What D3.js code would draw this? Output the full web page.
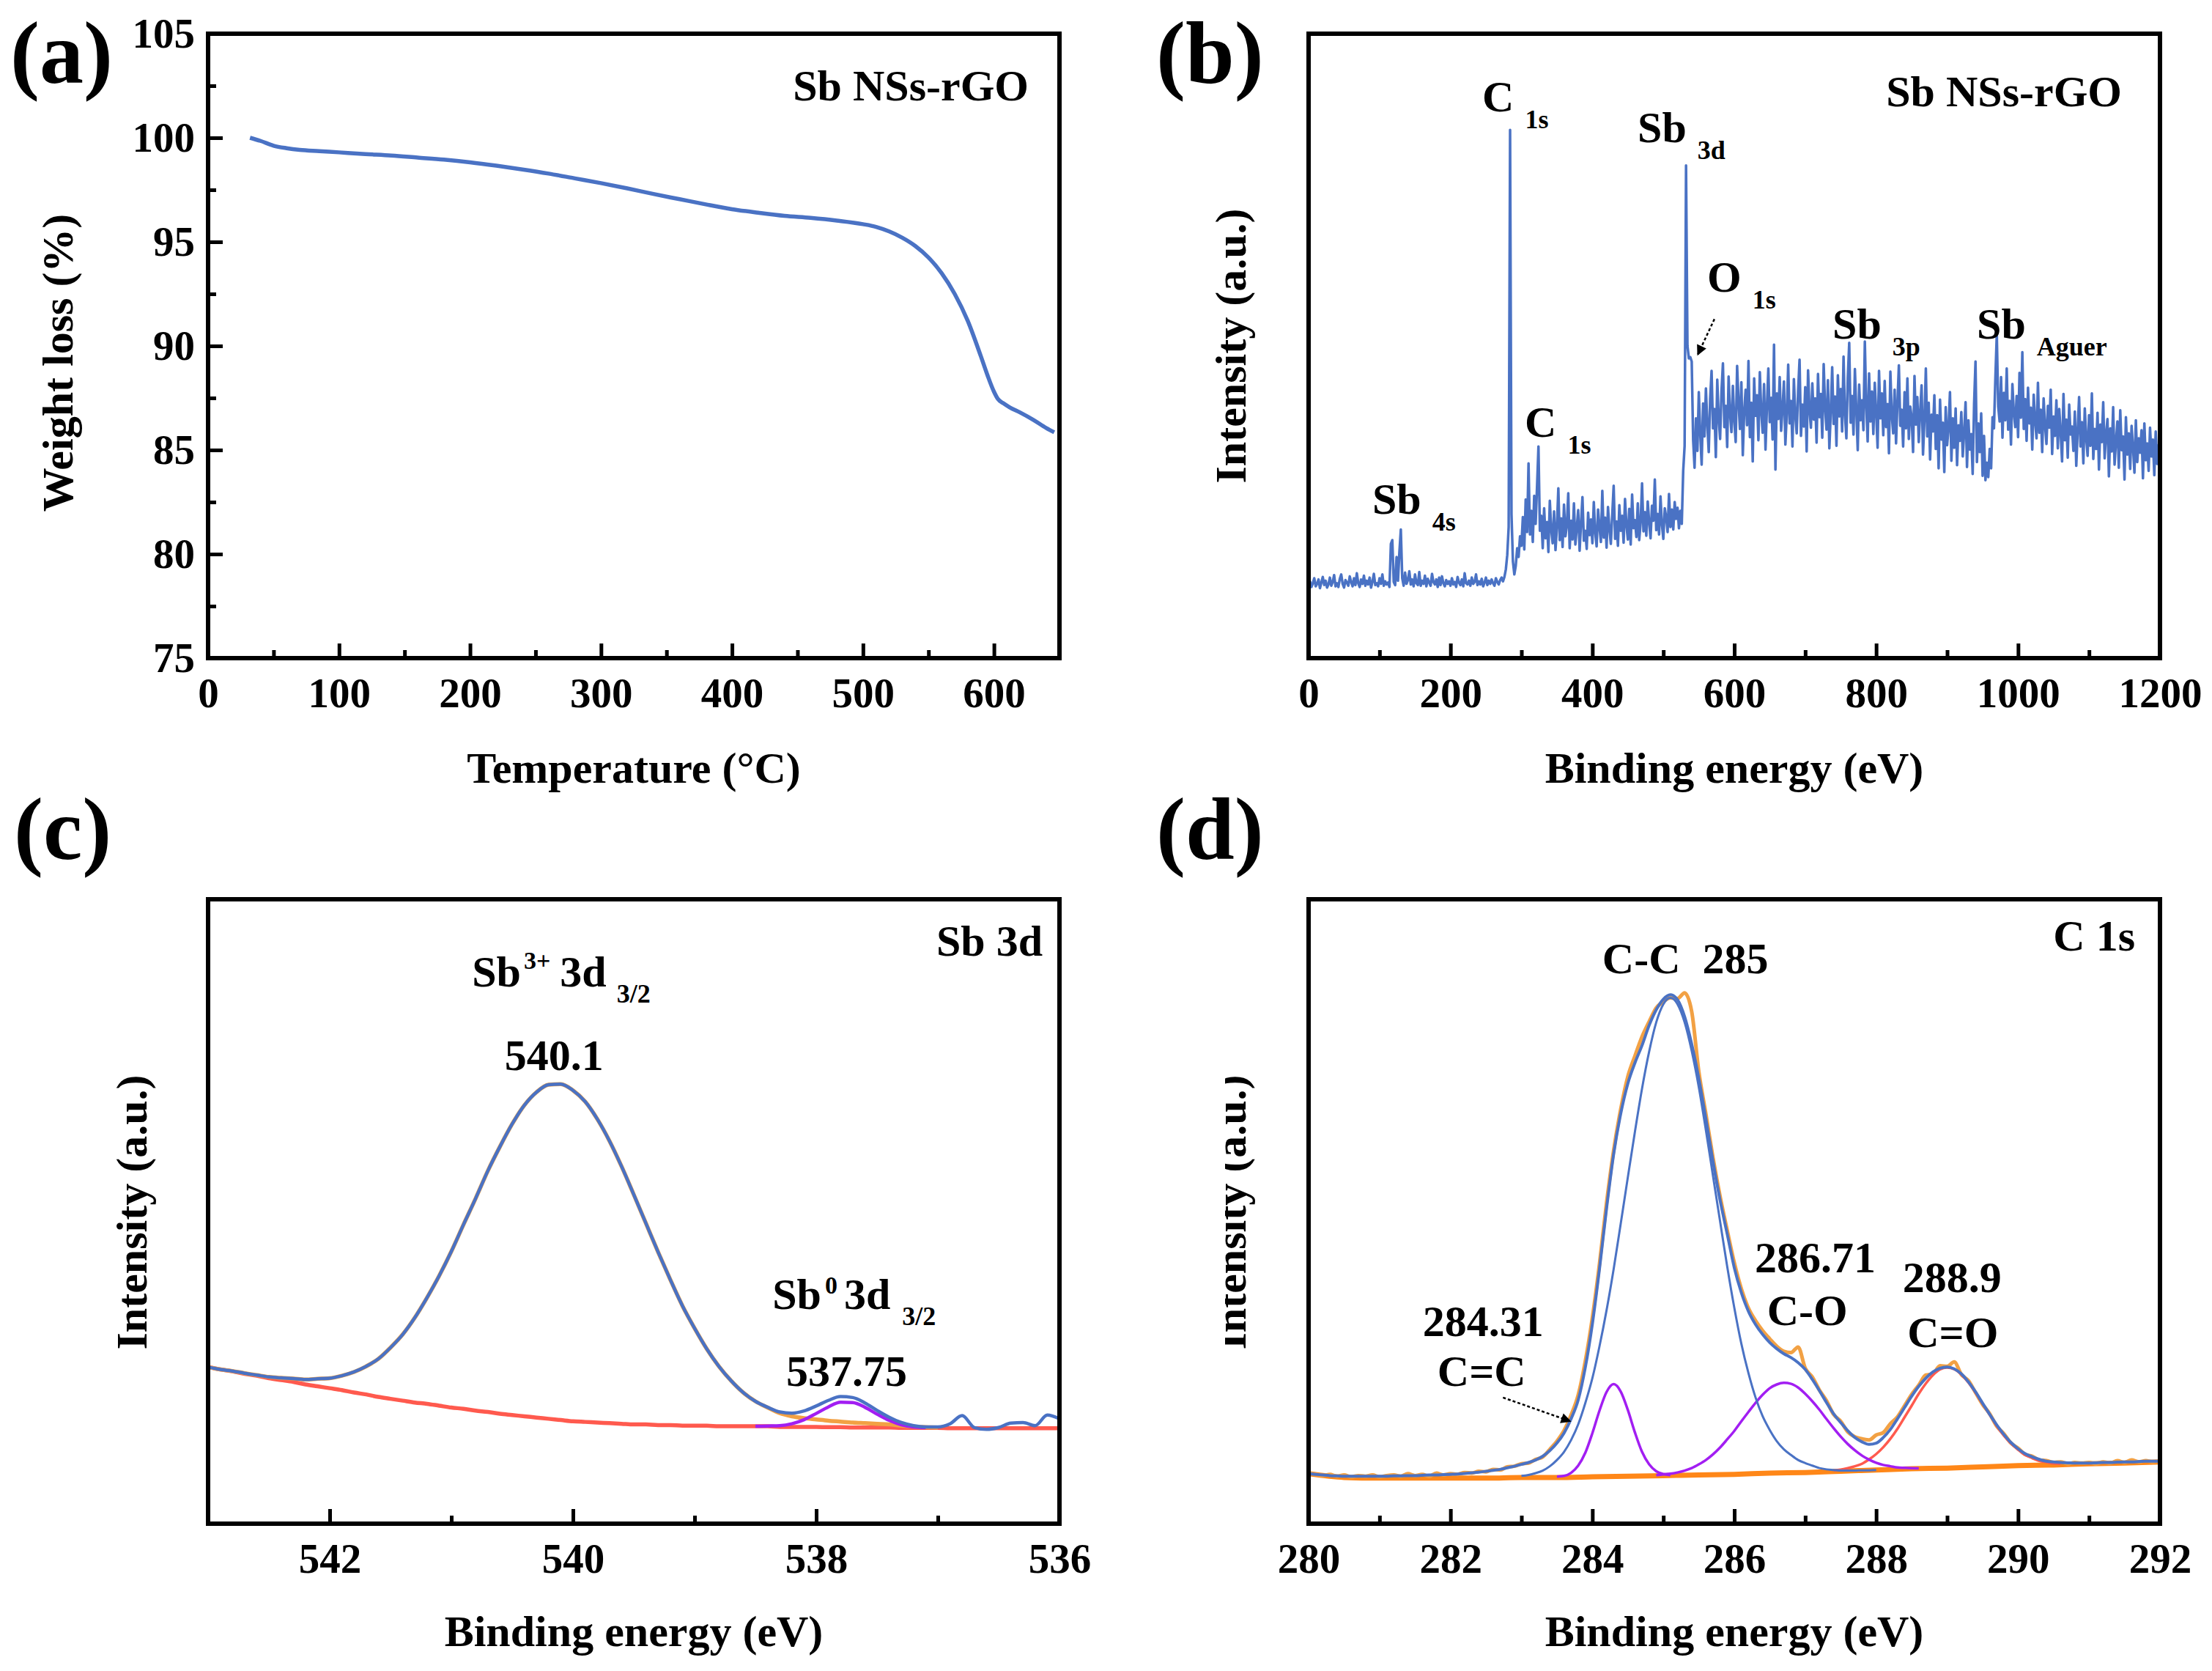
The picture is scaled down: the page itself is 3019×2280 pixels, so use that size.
<!DOCTYPE html>
<html>
<head>
<meta charset="UTF-8"/>
<script src="https://cdn.jsdelivr.net/npm/d3@7"></script>
<style>
body { margin: 0; background: #fff; }
text { font-family: "Liberation Serif", "Times New Roman", serif; font-weight: bold; fill: #000; }
.axis text { font-size: 57px; }
.axis line { stroke: #000; stroke-width: 5; }
.frame { fill: none; stroke: #000; stroke-width: 6; }
</style>
</head>
<body>
<svg id="fig" width="3019" height="2280"></svg>
<script>
'use strict';

// (a) TGA
var tgaTemp = [32, 40, 50, 60, 70, 85, 100, 120, 140, 160, 180, 200, 220, 240, 260, 280, 300,
  320, 340, 360, 380, 400, 420, 440, 460, 480, 500, 510, 520, 530, 540, 550, 560, 570, 580,
  590, 595, 600, 603, 607, 612, 620, 630, 640, 646];
var tgaWeight = [100.0, 99.85, 99.62, 99.5, 99.42, 99.36, 99.3, 99.22, 99.15, 99.05, 98.95, 98.82,
  98.66, 98.48, 98.28, 98.05, 97.82, 97.57, 97.3, 97.05, 96.8, 96.57, 96.4, 96.25, 96.15, 96.02,
  95.85, 95.72, 95.5, 95.2, 94.8, 94.25, 93.5, 92.5, 91.2, 89.5, 88.6, 87.8, 87.45, 87.25, 87.05,
  86.8, 86.45, 86.05, 85.85];

// (b) survey, one value every 2 eV from 0 to 1200 (20 per row = 40 eV)
var surveyStart = 0, surveyStep = 2;
var surveyCounts = [
  11.6, 12.3, 11.4, 12.0, 12.8, 11.5, 11.9, 12.6, 11.2, 12.1, 13.0, 11.7, 12.4, 11.3, 11.8, 12.9, 11.6, 12.2, 13.3, 11.5,
  12.0, 11.4, 12.7, 13.4, 11.9, 11.3, 12.5, 12.1, 11.6, 13.1, 12.2, 11.5, 12.8, 11.7, 13.6, 12.0, 11.4, 12.6, 11.9, 13.2,
  11.6, 12.4, 11.8, 12.9, 11.3, 12.2, 13.5, 11.7, 12.0, 11.5, 12.8, 11.9, 13.4, 11.6, 12.3, 11.8, 12.1, 11.4, 18.3, 18.9,
  12.2, 11.7, 16.2, 12.4, 17.0, 20.6, 12.8, 11.6, 13.7, 11.9, 12.5, 13.9, 11.8, 12.6, 11.5, 13.4, 12.0, 11.7, 13.8, 11.6,
  12.4, 11.9, 13.2, 11.5, 12.7, 12.1, 11.6, 13.5, 12.2, 11.8, 12.6, 11.4, 12.9, 11.7, 13.1, 12.0, 11.5, 12.5, 11.9, 12.3,
  11.6, 12.8, 11.8, 12.2, 11.4, 13.0, 12.1, 11.7, 12.6, 11.5, 13.6, 12.0, 11.8, 12.4, 11.6, 12.9, 11.9, 12.2, 13.4, 11.7,
  12.3, 11.8, 12.7, 11.5, 12.1, 12.9, 11.7, 12.4, 11.9, 12.6, 12.0, 11.6, 12.8, 12.2, 11.8, 12.5, 12.9, 12.3, 13.0, 14.2,
  16.5, 21.0, 84.6, 23.0, 15.5, 13.4, 14.8, 17.6, 16.2, 19.5, 18.0, 22.6, 17.4, 25.4, 20.2, 31.2, 19.8, 23.6, 18.6, 26.0,
  21.5, 27.5, 33.9, 20.4, 22.8, 17.6, 24.0, 19.2, 21.8, 17.0, 25.2, 20.6, 18.4, 23.5, 17.3, 21.0, 27.2, 18.9, 22.4, 17.8,
  24.6, 19.5, 21.2, 26.4, 17.6, 22.0, 19.0, 24.8, 18.2, 20.9, 23.7, 17.2, 21.6, 25.8, 18.8, 20.4, 17.5, 23.3, 19.7, 22.2,
  18.4, 25.0, 20.1, 17.9, 23.8, 21.0, 18.6, 26.8, 19.3, 22.5, 17.7, 24.2, 20.7, 18.3, 23.0, 27.6, 19.1, 21.9, 18.0, 24.5,
  20.4, 22.8, 18.5, 25.5, 21.3, 19.0, 23.9, 18.2, 26.2, 20.8, 22.1, 19.4, 24.8, 18.9, 21.7, 28.0, 20.3, 23.4, 19.6, 25.1,
  21.8, 19.2, 24.4, 22.0, 28.6, 20.5, 23.1, 19.8, 25.9, 21.4, 19.1, 24.0, 22.6, 20.2, 26.3, 21.0, 23.8, 20.6, 25.0, 22.3,
  24.1, 20.8, 23.6, 21.5, 30.0, 34.0, 78.9, 50.0, 48.0, 48.2, 47.5, 35.0, 30.5, 38.4, 33.2, 42.6, 36.0, 31.0, 40.8, 35.5,
  43.2, 37.4, 33.0, 41.5, 46.0, 36.8, 39.9, 32.2, 44.6, 38.5, 35.1, 42.8, 47.2, 37.0, 40.4, 33.8, 45.1, 39.2, 36.2, 43.6,
  38.0, 34.6, 46.8, 41.0, 36.7, 44.2, 32.5, 39.6, 43.0, 37.3, 47.6, 35.4, 40.9, 31.5, 44.8, 38.8, 42.1, 34.9, 45.8, 39.5,
  36.1, 43.9, 33.4, 40.2, 46.4, 37.8, 41.7, 35.0, 50.2, 30.2, 42.4, 38.3, 45.0, 36.4, 40.0, 44.3, 34.2, 39.1, 47.0, 37.6,
  41.2, 33.9, 44.7, 38.9, 36.0, 42.9, 47.8, 35.6, 40.6, 37.1, 43.4, 33.1, 46.1, 39.8, 36.9, 44.0, 38.2, 41.6, 34.5, 45.5,
  38.6, 42.3, 35.3, 47.1, 40.1, 36.6, 44.5, 33.6, 39.4, 46.6, 37.5, 41.9, 34.0, 45.3, 38.7, 43.1, 36.3, 48.3, 39.0, 35.2,
  44.9, 50.5, 37.7, 42.0, 35.8, 46.3, 39.7, 33.3, 43.8, 38.1, 41.3, 36.5, 50.7, 40.5, 34.7, 45.6, 37.9, 42.7, 35.9, 44.1,
  39.3, 33.7, 46.0, 38.4, 42.4, 35.7, 44.4, 37.0, 40.7, 32.8, 45.9, 38.9, 36.0, 43.0, 34.4, 41.1, 46.9, 37.2, 39.8, 33.9,
  42.6, 36.8, 44.8, 35.1, 40.3, 38.6, 33.0, 45.2, 37.4, 41.8, 34.6, 39.5, 43.7, 32.6, 38.1, 46.4, 35.5, 40.9, 31.8, 39.0,
  36.3, 42.1, 33.5, 38.9, 30.4, 41.4, 35.0, 37.7, 29.8, 40.2, 34.1, 36.9, 42.6, 31.6, 38.4, 33.7, 40.0, 30.9, 37.3, 34.8,
  39.4, 32.3, 36.2, 41.0, 30.6, 38.1, 33.4, 35.9, 29.5, 40.7, 47.5, 31.4, 37.6, 33.0, 39.2, 29.2, 35.6, 28.5, 31.3, 29.0,
  33.5, 30.4, 38.6, 36.8, 44.9, 51.9, 40.3, 37.9, 45.0, 35.3, 42.5, 38.1, 46.4, 36.6, 41.2, 34.2, 43.9, 39.3, 37.0, 42.0,
  35.4, 45.7, 38.5, 49.0, 36.7, 41.5, 34.8, 43.3, 37.6, 40.1, 33.4, 42.2, 38.0, 35.2, 44.1, 36.1, 39.8, 33.0, 41.6, 37.3,
  34.3, 40.4, 36.9, 43.0, 32.7, 38.7, 35.6, 41.3, 33.6, 39.9, 36.2, 31.5, 42.3, 34.9, 38.2, 32.1, 40.6, 35.8, 37.1, 33.2,
  39.5, 30.8, 36.4, 41.8, 33.9, 37.8, 31.2, 40.0, 35.3, 32.4, 38.9, 34.0, 42.4, 31.9, 36.7, 33.5, 39.3, 30.2, 37.4, 34.6,
  41.0, 32.0, 35.9, 38.3, 29.1, 36.8, 33.1, 40.2, 31.0, 34.7, 37.9, 30.5, 39.7, 33.3, 35.5, 28.6, 38.6, 32.6, 36.0, 30.3,
  37.2, 33.8, 29.7, 38.1, 31.4, 35.2, 32.9, 36.5, 28.8, 37.6, 31.7, 34.4, 30.0, 36.9, 32.3, 35.0, 29.3, 36.3, 31.1, 34.1,
  32.5];

// (c) Sb 3d, every 0.1 eV from 543.0 down to 536.0
var sbStart = 543.0, sbStep = -0.1;
var sbBackground = [
  25.1, 24.7, 24.4, 24.0, 23.7, 23.3, 23.0, 22.7, 22.3, 22.0,
  21.7, 21.4, 21.0, 20.7, 20.3, 20.0, 19.7, 19.4, 19.2, 18.9,
  18.6, 18.4, 18.1, 17.9, 17.6, 17.4, 17.2, 17.0, 16.8, 16.6,
  16.4, 16.3, 16.2, 16.1, 16.0, 15.9, 15.9, 15.8, 15.8, 15.7,
  15.7, 15.7, 15.6, 15.6, 15.6, 15.6, 15.6, 15.5, 15.5, 15.5,
  15.5, 15.45, 15.45, 15.4, 15.4, 15.4, 15.4, 15.35, 15.35, 15.35,
  15.35, 15.3, 15.3, 15.3, 15.3, 15.3, 15.3, 15.3, 15.3, 15.3, 15.3];
var sb3Fit = [
  25.1, 24.7, 24.45, 24.1, 23.8, 23.5, 23.35, 23.25, 23.1, 23.2,
  23.3, 23.7, 24.3, 25.2, 26.4, 28.2, 30.3, 33.0, 36.2, 39.7,
  43.6, 47.9, 52.1, 56.5, 60.4, 64.0, 67.0, 69.1, 70.3, 70.4,
  69.4, 67.6, 64.8, 61.3, 57.2, 52.7, 48.1, 43.5, 39.1, 34.9,
  31.3, 28.0, 25.2, 22.9, 21.0, 19.6, 18.6, 17.7, 17.2, 16.9,
  16.7, 16.5, 16.35, 16.2, 16.1, 16.0, 15.9, 15.7, 15.55, 15.45,
  15.4];
var sbEnvelope = [
  25.1, 24.7, 24.45, 24.1, 23.8, 23.5, 23.35, 23.25, 23.1, 23.2,
  23.3, 23.7, 24.3, 25.2, 26.4, 28.2, 30.3, 33.0, 36.2, 39.7,
  43.6, 47.9, 52.1, 56.5, 60.4, 64.0, 67.0, 69.1, 70.3, 70.4,
  69.4, 67.6, 64.8, 61.3, 57.2, 52.7, 48.1, 43.5, 39.1, 34.9,
  31.3, 28.0, 25.2, 22.9, 21.0, 19.6, 18.65, 17.9, 17.7, 18.05,
  18.85, 19.75, 20.35, 20.2, 19.35, 18.15, 17.05, 16.2, 15.7, 15.5,
  15.5, 16.0, 17.3, 15.4, 15.1, 15.4, 16.1, 16.2, 15.7, 17.4, 16.8];
var sb0Start = 538.5;
var sb0Fit = [15.6, 15.65, 15.7, 16.0, 16.65, 17.65, 18.7, 19.45, 19.4, 18.65, 17.55, 16.55, 15.85, 15.5, 15.4];

// (d) C 1s, every 0.1 eV from 280 to 292 (background every 0.5 eV)
var cStart = 280.0, cStep = 0.1, cBgStep = 0.5;
var cBackground = [8.0, 7.4, 7.3, 7.3, 7.3, 7.3, 7.4, 7.4, 7.5, 7.6, 7.7, 7.8, 7.9,
  8.1, 8.2, 8.4, 8.6, 8.8, 8.9, 9.1, 9.3, 9.4, 9.6, 9.7, 9.9];
var cRaw = [
  8.1, 7.9, 7.7, 7.9, 7.6, 7.8, 7.5, 7.7, 7.6, 7.8,
  7.5, 7.7, 7.8, 7.6, 8.0, 7.7, 7.9, 7.6, 8.1, 7.8,
  8.0, 7.9, 8.2, 8.1, 8.4, 8.3, 8.7, 8.6, 9.1, 9.2,
  9.6, 9.7, 10.3, 10.7, 11.9, 13.2, 14.9, 17.4, 20.6, 26.0,
  33.0, 41.6, 51.4, 59.8, 66.4, 71.6, 74.9, 78.0, 80.4, 82.6,
  83.6, 84.2, 84.1, 85.0, 82.0, 72.4, 65.6, 58.6, 52.4, 47.0,
  41.8, 37.6, 34.5, 32.5, 30.9, 29.6, 28.4, 27.6, 27.4, 28.3,
  24.9, 23.5, 21.4, 19.7, 17.5, 16.4, 14.7, 13.9, 13.6, 13.4,
  14.2, 14.6, 16.0, 17.1, 18.9, 20.7, 22.2, 23.8, 24.0, 25.3,
  25.2, 25.9, 23.9, 22.9, 21.0, 19.1, 17.6, 15.6, 14.4, 12.9,
  12.1, 11.1, 10.8, 10.2, 10.1, 9.8, 9.9, 9.6, 9.8, 9.7,
  9.8, 9.6, 9.9, 9.7, 10.1, 9.8, 10.2, 9.9, 10.1, 9.9,
  10.0];
var cEnvelope = [
  8.0, 7.9, 7.8, 7.7, 7.65, 7.6, 7.6, 7.6, 7.6, 7.6,
  7.6, 7.6, 7.65, 7.65, 7.7, 7.7, 7.75, 7.8, 7.8, 7.85,
  7.9, 7.95, 8.05, 8.15, 8.25, 8.4, 8.55, 8.7, 8.95, 9.2,
  9.5, 9.8, 10.2, 10.8, 11.7, 12.9, 14.5, 16.8, 19.8, 25.0,
  32.0, 40.8, 50.5, 59.2, 65.7, 70.5, 73.8, 76.6, 79.8, 82.3,
  84.0, 84.7, 83.9, 81.2, 76.8, 71.3, 64.8, 58.0, 51.8, 46.4,
  41.0, 37.0, 34.0, 31.9, 30.3, 29.0, 28.0, 27.2, 26.6, 25.8,
  24.7, 23.1, 21.3, 19.4, 17.6, 16.2, 14.9, 13.8, 13.1, 12.7,
  12.9, 13.8, 15.1, 16.8, 18.6, 20.4, 22.0, 23.3, 24.3, 24.9,
  25.1, 24.8, 24.0, 22.7, 21.1, 19.3, 17.5, 15.8, 14.3, 13.0,
  12.0, 11.2, 10.7, 10.3, 10.0, 9.9, 9.8, 9.75, 9.7, 9.7,
  9.7, 9.75, 9.8, 9.8, 9.85, 9.9, 9.9, 9.95, 10.0, 10.0,
  10.0];
var ccStart = 283.0;   // C-C
var ccFit = [
  7.65, 7.8, 8.1, 8.5, 9.2, 10.2, 11.5, 13.4, 15.9, 19.3,
  23.3, 28.4, 34.2, 40.8, 48.1, 55.5, 62.8, 69.7, 75.6, 80.3,
  83.2, 84.2, 83.2, 80.3, 75.7, 69.9, 63.0, 55.7, 48.4, 41.2,
  34.6, 28.8, 24.1, 20.2, 17.2, 15.0, 13.2, 11.9, 11.0, 10.2,
  9.7, 9.3, 8.9, 8.7, 8.6, 8.5, 8.5, 8.5, 8.55, 8.55, 8.6];
var cdcStart = 283.5;  // C=C
var cdcFit = [7.55, 7.65, 8.15, 9.3, 11.35, 14.5, 18.1, 21.1, 22.35, 21.15, 18.2, 14.6,
  11.5, 9.5, 8.4, 7.95, 7.77];
var coStart = 284.9;   // C-O
var coFit = [7.77, 7.9, 8.0, 8.2, 8.5, 8.9, 9.5, 10.2, 11.1, 12.2, 13.5, 14.85, 16.4, 17.9,
  19.35, 20.65, 21.7, 22.3, 22.55, 22.4, 21.8, 20.8, 19.6, 18.25, 16.75, 15.3, 13.95, 12.75,
  11.75, 10.9, 10.25, 9.75, 9.4, 9.2, 9.0, 8.95, 8.9, 8.85];
var cdoStart = 287.4;  // C=O
var cdoFit = [8.5, 8.65, 8.9, 9.2, 9.6, 10.3, 11.15, 12.25, 13.6, 15.2, 17.05, 18.9, 20.8,
  22.45, 23.8, 24.7, 25.0, 24.75, 23.9, 22.6, 21.0, 19.2, 17.45, 15.65, 14.1, 12.85, 11.85,
  11.0, 10.5, 10.05, 9.85, 9.65, 9.6];

var BLUE = '#4a72c4', PURPLE = '#a21ef2', RED = '#ff5a4e', ORANGE = '#f2a144', BG_ORANGE = '#ff8718';

var svg = d3.select('#fig');
var W = 1162, H = 852;

var defs = svg.append('defs');
defs.append('marker')
  .attr('id', 'head')
  .attr('viewBox', '0 0 10 10')
  .attr('refX', 9).attr('refY', 5)
  .attr('markerWidth', 16).attr('markerHeight', 14)
  .attr('markerUnits', 'userSpaceOnUse')
  .attr('orient', 'auto')
  .append('path').attr('d', 'M0,0L10,5L0,10z').attr('fill', '#000');
defs.append('clipPath').attr('id', 'cutLabel')
  .append('rect').attr('x', 1672).attr('y', 1200).attr('width', 100).attr('height', 900);
defs.append('clipPath').attr('id', 'box')
  .append('rect').attr('width', W).attr('height', H);

function panel(left, top, xDomain, yDomain) {
  var g = svg.append('g').attr('transform', 'translate(' + left + ',' + top + ')');
  var x = d3.scaleLinear().domain(xDomain).range([0, W]);
  var y = d3.scaleLinear().domain(yDomain).range([H, 0]);
  var plot = g.append('g').attr('clip-path', 'url(#box)');
  return { g: g, plot: plot, x: x, y: y, left: left, top: top };
}

function axes(p, xMajor, xMinor, yMajor, yMinor) {
  var gx = p.g.append('g').attr('class', 'axis').attr('transform', 'translate(0,' + H + ')')
    .call(d3.axisBottom(p.x).tickValues(xMajor).tickSize(-20).tickPadding(27).tickFormat(d3.format('d')));
  var gxm = p.g.append('g').attr('class', 'axis').attr('transform', 'translate(0,' + H + ')')
    .call(d3.axisBottom(p.x).tickValues(xMinor).tickSize(-11).tickFormat(''));
  gx.select('.domain').remove();
  gxm.select('.domain').remove();
  if (yMajor) {
    var gy = p.g.append('g').attr('class', 'axis')
      .call(d3.axisLeft(p.y).tickValues(yMajor).tickSize(-20).tickPadding(18).tickFormat(d3.format('d')));
    var gym = p.g.append('g').attr('class', 'axis')
      .call(d3.axisLeft(p.y).tickValues(yMinor).tickSize(-11).tickFormat(''));
    gy.select('.domain').remove();
    gym.select('.domain').remove();
  }
  p.g.selectAll('.axis').attr('font-family', null).attr('font-size', null);
}

function frame(p) {
  p.g.append('rect').attr('class', 'frame').attr('width', W).attr('height', H);
}

function series(p, start, step, values, color, width, smooth) {
  var line = d3.line()
    .x(function (d, i) { return p.x(start + i * step); })
    .y(function (d) { return p.y(d); });
  if (smooth) line.curve(d3.curveMonotoneX);
  p.plot.append('path').datum(values)
    .attr('d', line)
    .attr('fill', 'none')
    .attr('stroke', color)
    .attr('stroke-width', width)
    .attr('stroke-linejoin', 'round');
}

function corner(p, label, dx, dy) {
  p.g.append('text').attr('x', W - dx).attr('y', dy)
    .attr('text-anchor', 'end').attr('font-size', 60).text(label);
}

function xTitle(p, label, base) {
  svg.append('text').attr('x', p.left + W / 2).attr('y', base)
    .attr('text-anchor', 'middle').attr('font-size', 60).text(label);
}

function yTitle(label, xb, yc, clip) {
  var holder = clip ? svg.append('g').attr('clip-path', 'url(#cutLabel)') : svg;
  holder.append('text')
    .attr('transform', 'translate(' + xb + ',' + yc + ') rotate(-90)')
    .attr('text-anchor', 'middle').attr('font-size', 60).text(label);
}

function letter(label, x, base) {
  svg.append('text').attr('x', x).attr('y', base).attr('font-size', 120).text(label);
}

// peak label: main text plus a lowered subscript
function peakLabel(p, e, v, main, sub) {
  var t = p.g.append('text').attr('x', p.x(e)).attr('y', p.y(v)).attr('font-size', 60);
  t.append('tspan').text(main);
  t.append('tspan').attr('font-size', 36).attr('dx', 15).attr('dy', 23).text(sub);
}

function centred(p, e, v, label) {
  p.g.append('text').attr('x', p.x(e)).attr('y', p.y(v))
    .attr('text-anchor', 'middle').attr('font-size', 60)
    .style('white-space', 'pre').text(label);
}

function arrow(p, e0, v0, e1, v1) {
  p.g.append('line')
    .attr('x1', p.x(e0)).attr('y1', p.y(v0))
    .attr('x2', p.x(e1)).attr('y2', p.y(v1))
    .attr('stroke', '#000').attr('stroke-width', 2.5)
    .attr('stroke-dasharray', '4 3')
    .attr('marker-end', 'url(#head)');
}

// ---------- (a) ----------
var pa = panel(284, 46, [0, 650], [75, 105]);
pa.plot.append('path').datum(d3.zip(tgaTemp, tgaWeight))
  .attr('d', d3.line().curve(d3.curveMonotoneX)
    .x(function (d) { return pa.x(d[0]); })
    .y(function (d) { return pa.y(d[1]); }))
  .attr('fill', 'none').attr('stroke', BLUE).attr('stroke-width', 5.5);
axes(pa, d3.range(0, 601, 100), d3.range(50, 551, 100), d3.range(75, 106, 5), d3.range(77.5, 105, 5));
frame(pa);
corner(pa, 'Sb NSs-rGO', 42, 91);
xTitle(pa, 'Temperature (°C)', 1068);
yTitle('Weight loss (%)', 99, 495);
letter('(a)', 14, 113);

// ---------- (b) ----------
var pb = panel(1786, 46, [0, 1200], [0, 100]);
series(pb, surveyStart, surveyStep, surveyCounts, BLUE, 3.5);
axes(pb, d3.range(0, 1201, 200), d3.range(100, 1101, 200));
frame(pb);
corner(pb, 'Sb NSs-rGO', 52, 99);
peakLabel(pb, 244.8, 87.6, 'C', '1s');
peakLabel(pb, 463.7, 82.6, 'Sb', '3d');
peakLabel(pb, 561.8, 58.7, 'O', '1s');
peakLabel(pb, 738.4, 51.2, 'Sb', '3p');
peakLabel(pb, 941.9, 51.2, 'Sb', 'Aguer');
peakLabel(pb, 304.7, 35.5, 'C', '1s');
peakLabel(pb, 89.8, 23.1, 'Sb', '4s');
arrow(pb, 572, 54.3, 548.5, 48.6);
xTitle(pb, 'Binding energy (eV)', 1068);
yTitle('Intensity (a.u.)', 1700, 472);
letter('(b)', 1578, 113);

// ---------- (c) ----------
var pc = panel(284, 1227, [543, 536], [0, 100]);
series(pc, sbStart, sbStep, sbBackground, RED, 5.5, true);
series(pc, sbStart, sbStep, sb3Fit, ORANGE, 5.5, true);
series(pc, sb0Start, sbStep, sb0Fit, PURPLE, 4.5, true);
series(pc, sbStart, sbStep, sbEnvelope, BLUE, 4.5, true);
axes(pc, [542, 540, 538, 536], [541, 539, 537]);
frame(pc);
corner(pc, 'Sb 3d', 23, 77);
var t3 = pc.g.append('text').attr('x', pc.x(540.83)).attr('y', pc.y(86.0)).attr('font-size', 60);
t3.append('tspan').text('Sb');
t3.append('tspan').attr('font-size', 34).attr('dx', 4).attr('dy', -24).text('3+');
t3.append('tspan').attr('font-size', 60).attr('dx', 13).attr('dy', 24).text('3d');
t3.append('tspan').attr('font-size', 36).attr('dx', 14).attr('dy', 22).text('3/2');
centred(pc, 540.155, 72.7, '540.1');
var t0 = pc.g.append('text').attr('x', pc.x(538.36)).attr('y', pc.y(34.4)).attr('font-size', 60);
t0.append('tspan').text('Sb');
t0.append('tspan').attr('font-size', 34).attr('dx', 5).attr('dy', -21).text('0');
t0.append('tspan').attr('font-size', 60).attr('dx', 9).attr('dy', 21).text('3d');
t0.append('tspan').attr('font-size', 36).attr('dx', 16).attr('dy', 22).text('3/2');
centred(pc, 537.75, 22.1, '537.75');
xTitle(pc, 'Binding energy (eV)', 2246);
yTitle('Intensity (a.u.)', 200, 1654);
letter('(c)', 19, 1172);

// ---------- (d) ----------
var pd = panel(1786, 1227, [280, 292], [0, 100]);
series(pd, cStart, cBgStep, cBackground, BG_ORANGE, 7, true);
series(pd, cStart, cStep, cRaw, ORANGE, 5, true);
series(pd, cdoStart, cStep, cdoFit, RED, 3.5, true);
series(pd, cdcStart, cStep, cdcFit, PURPLE, 3.5, true);
series(pd, coStart, cStep, coFit, PURPLE, 3.5, true);
series(pd, ccStart, cStep, ccFit, BLUE, 3, true);
series(pd, cStart, cStep, cEnvelope, BLUE, 4, true);
axes(pd, d3.range(280, 293, 2), d3.range(281, 292, 2));
frame(pd);
corner(pd, 'C 1s', 34, 70);
centred(pd, 285.31, 88.2, 'C-C  285');
centred(pd, 287.14, 40.3, '286.71');
centred(pd, 287.03, 31.8, 'C-O');
centred(pd, 289.07, 37.1, '288.9');
centred(pd, 289.08, 28.3, 'C=O');
centred(pd, 282.46, 30.1, '284.31');
centred(pd, 282.44, 22.1, 'C=C');
arrow(pd, 282.74, 20.2, 283.69, 16.4);
xTitle(pd, 'Binding energy (eV)', 2246);
yTitle('Intensity (a.u.)', 1700, 1654, true);
letter('(d)', 1578, 1172);
</script>
</body>
</html>
